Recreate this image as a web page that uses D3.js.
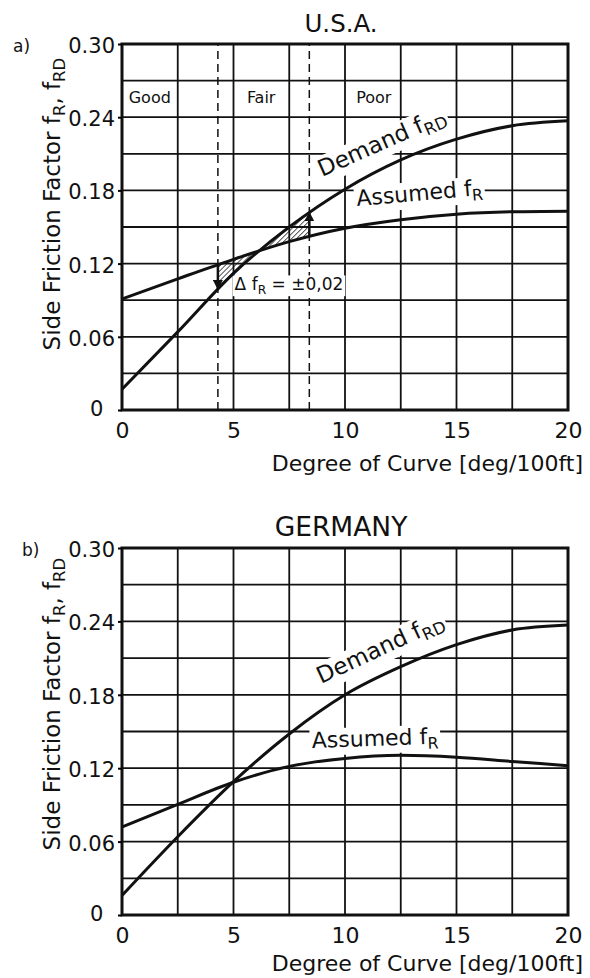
<!DOCTYPE html>
<html>
<head>
<meta charset="utf-8">
<script src="https://cdn.jsdelivr.net/npm/d3@7"></script>
<style>
  body { margin: 0; background: #fff; }
  svg text { font-family: "DejaVu Sans", "Liberation Sans", sans-serif; fill: #111; }
</style>
</head>
<body>
<script>
'use strict';

/* data */
var degree     = [0, 2.5, 5, 7.5, 10, 12.5, 15, 17.5, 20];
var usaAssumed = [0.091, 0.1075, 0.1235, 0.138, 0.149, 0.156, 0.1605, 0.1625, 0.163];
var usaDemand  = [0.017, 0.064, 0.112, 0.150, 0.181, 0.205, 0.222, 0.233, 0.237];
var gerAssumed = [0.072, 0.0905, 0.1085, 0.1215, 0.128, 0.1305, 0.129, 0.1255, 0.122];
var gerDemand  = [0.016, 0.064, 0.109, 0.148, 0.180, 0.203, 0.221, 0.233, 0.237];

var xTicks = [0, 5, 10, 15, 20];
var yTicks = [0, 0.06, 0.12, 0.18, 0.24, 0.30];
var xGrid  = [0, 2.5, 5, 7.5, 10, 12.5, 15, 17.5, 20];
var yGrid  = [0, 0.03, 0.06, 0.09, 0.12, 0.15, 0.18, 0.21, 0.24, 0.27, 0.30];

var rangeLimits = [4.3, 8.4];
var rangeLabels = ['Good', 'Fair', 'Poor'];
var rangeLabelX = [0.3, 5.6, 10.5];

var INK = '#111';
var svg = d3.select('body').append('svg')
  .attr('width', 590)
  .attr('height', 978);

var defs = svg.append('defs');
defs.append('pattern')
    .attr('id', 'hatch')
    .attr('patternUnits', 'userSpaceOnUse')
    .attr('width', 3.5).attr('height', 3.5)
    .attr('patternTransform', 'rotate(45)')
  .append('line')
    .attr('x1', 0).attr('y1', 0).attr('x2', 0).attr('y2', 3.5)
    .attr('stroke', INK).attr('stroke-width', 1.4);
defs.append('marker')
    .attr('id', 'arrow')
    .attr('viewBox', '0 0 10 10')
    .attr('refX', 9).attr('refY', 5)
    .attr('markerWidth', 4).attr('markerHeight', 4)
    .attr('orient', 'auto')
  .append('path')
    .attr('d', 'M0,0 L10,5 L0,10 z')
    .attr('fill', INK);

// text with subscript parts: [[text, isSub], ...]
function richText(g, parts, size) {
  var t = g.append('text').attr('font-size', size);
  var shift = size * 0.22;
  parts.forEach(function(p, i) {
    var prevSub = i > 0 && parts[i - 1][1];
    var ts = t.append('tspan').text(p[0]);
    if (p[1]) {
      ts.attr('font-size', size * 0.72).attr('dy', prevSub ? 0 : shift);
    } else if (prevSub) {
      ts.attr('dy', -shift);
    }
  });
  return t;
}

// label on a white box that knocks the grid out
function boxedLabel(g, parts, size, tx, ty, angle) {
  var lg = g.append('g')
    .attr('transform', 'translate(' + tx + ',' + ty + ') rotate(' + angle + ')');
  var box = lg.append('rect').attr('fill', '#fff');
  var t = richText(lg, parts, size);
  var bb = t.node().getBBox();
  box.attr('x', bb.x - 2).attr('y', bb.y + 1)
    .attr('width', bb.width + 4).attr('height', bb.height - 2);
  return lg;
}

// y on a drawn path at a given pixel x
function yAtX(node, px) {
  var len = node.getTotalLength(), lo = 0, hi = len, p;
  for (var k = 0; k < 40; k++) {
    var mid = (lo + hi) / 2;
    p = node.getPointAtLength(mid);
    if (p.x < px) lo = mid; else hi = mid;
  }
  return p.y;
}

function drawPanel(cfg) {
  var x = d3.scaleLinear().domain([0, 20]).range([122, 568]);
  var y = d3.scaleLinear().domain([0, 0.30]).range([cfg.bottom, cfg.top]);
  var g = svg.append('g');

  // grid
  g.append('g').selectAll('line')
    .data(xGrid).enter()
    .append('line')
      .attr('x1', function(d) { return x(d); })
      .attr('x2', function(d) { return x(d); })
      .attr('y1', y(0)).attr('y2', y(0.30))
      .attr('stroke', INK).attr('stroke-width', 1.8);
  g.append('g').selectAll('line')
    .data(yGrid).enter()
    .append('line')
      .attr('x1', x(0)).attr('x2', x(20))
      .attr('y1', function(d) { return y(d); })
      .attr('y2', function(d) { return y(d); })
      .attr('stroke', INK).attr('stroke-width', 1.8);

  var line = function(vals) {
    return d3.line()
      .x(function(d, i) { return x(degree[i]); })
      .y(function(d) { return y(d); })
      .curve(d3.curveMonotoneX)(vals);
  };

  if (cfg.ranges) {
    g.append('g').selectAll('line')
      .data(rangeLimits).enter()
      .append('line')
        .attr('x1', function(d) { return x(d); })
        .attr('x2', function(d) { return x(d); })
        .attr('y1', y(0)).attr('y2', y(0.30))
        .attr('stroke', INK).attr('stroke-width', 1.5)
        .attr('stroke-dasharray', '8,5');

    g.append('g').selectAll('text')
      .data(rangeLabels).enter()
      .append('text')
        .attr('x', function(d, i) { return x(rangeLabelX[i]); })
        .attr('y', y(0.2515))
        .attr('font-size', 16)
        .text(function(d) { return d; });

    // hatched deviation between the curves
    g.append('clipPath').attr('id', 'rangeClip')
      .append('rect')
        .attr('x', x(rangeLimits[0])).attr('width', x(rangeLimits[1]) - x(rangeLimits[0]))
        .attr('y', y(0.30)).attr('height', y(0) - y(0.30));
    g.append('path')
      .attr('d', d3.area()
        .x(function(d, i) { return x(degree[i]); })
        .y0(function(d) { return y(d[0]); })
        .y1(function(d) { return y(d[1]); })
        .curve(d3.curveMonotoneX)(cfg.assumed.map(function(a, i) { return [a, cfg.demand[i]]; })))
      .attr('clip-path', 'url(#rangeClip)')
      .attr('fill', 'url(#hatch)')
      .attr('stroke', 'none');

    boxedLabel(g, [['\u0394 f', false], ['R', true], [' = \u00b10,02', false]], 17,
      x(5.05), y(0.098), 0);
  }

  // curve labels
  var dl = cfg.demandLabel, al = cfg.assumedLabel;
  boxedLabel(g, [['Demand f', false], ['RD', true]], 23, dl[0], dl[1], dl[2]);
  boxedLabel(g, [['Assumed f', false], ['R', true]], 22, al[0], al[1], al[2]);

  // curves
  var aPath = g.append('path').attr('d', line(cfg.assumed))
    .attr('fill', 'none').attr('stroke', INK).attr('stroke-width', 3);
  var dPath = g.append('path').attr('d', line(cfg.demand))
    .attr('fill', 'none').attr('stroke', INK).attr('stroke-width', 3);

  if (cfg.ranges) {
    rangeLimits.forEach(function(r) {
      var px = x(r);
      g.append('line')
        .attr('x1', px).attr('x2', px)
        .attr('y1', yAtX(aPath.node(), px))
        .attr('y2', yAtX(dPath.node(), px))
        .attr('stroke', INK).attr('stroke-width', 2.5)
        .attr('marker-end', 'url(#arrow)');
    });
  }

  // frame
  g.append('rect')
    .attr('x', x(0)).attr('y', y(0.30))
    .attr('width', x(20) - x(0)).attr('height', y(0) - y(0.30))
    .attr('fill', 'none').attr('stroke', INK).attr('stroke-width', 3);

  // axes
  var ya = g.append('g')
    .attr('transform', 'translate(' + x(0) + ',0)')
    .call(d3.axisLeft(y).tickValues(yTicks).tickSize(4).tickPadding(3)
      .tickFormat(function(d) { return d === 0 ? '0' : d3.format('.2f')(d); }));
  ya.select('.domain').remove();
  ya.attr('font-size', 21).attr('font-family', null);
  ya.selectAll('line').attr('stroke-width', 2);
  ya.selectAll('.tick text').attr('dy', '0.4em')
    .filter(function(d) { return d === 0; }).attr('dx', '-0.55em').attr('dy', '0.28em');

  var xa = g.append('g')
    .attr('transform', 'translate(0,' + y(0) + ')')
    .call(d3.axisBottom(x).tickValues(xTicks).tickSize(0).tickPadding(12));
  xa.select('.domain').remove();
  xa.attr('font-size', 22).attr('font-family', null);

  g.append('text')
    .attr('x', 583).attr('y', y(0) + cfg.xLabelGap)
    .attr('text-anchor', 'end')
    .attr('font-size', 22)
    .text('Degree of Curve [deg/100ft]');

  var yl = richText(g, [['Side Friction Factor f', false], ['R', true], [', f', false], ['RD', true]], 23);
  yl.attr('text-anchor', 'middle')
    .attr('transform', 'translate(60,' + cfg.yLabelMid + ') rotate(-90)');

  g.append('text')
    .attr('x', 341).attr('y', cfg.top - 12)
    .attr('text-anchor', 'middle')
    .attr('font-size', cfg.titleSize)
    .text(cfg.title);

  g.append('text')
    .attr('x', cfg.tagX).attr('y', cfg.top + 8)
    .attr('font-size', 17)
    .text(cfg.tag);
}

drawPanel({
  top: 44, bottom: 410,
  assumed: usaAssumed, demand: usaDemand,
  ranges: true,
  title: 'U.S.A.', titleSize: 24.5, tag: 'a)', tagX: 13,
  demandLabel: [322, 177, -24],
  assumedLabel: [357, 206, -5],
  yLabelMid: 204, xLabelGap: 61
});

drawPanel({
  top: 548, bottom: 915,
  assumed: gerAssumed, demand: gerDemand,
  ranges: false,
  title: 'GERMANY', titleSize: 26.5, tag: 'b)', tagX: 22,
  demandLabel: [321, 684, -25],
  assumedLabel: [312, 748, -2],
  yLabelMid: 704, xLabelGap: 56
});
</script>
</body>
</html>
